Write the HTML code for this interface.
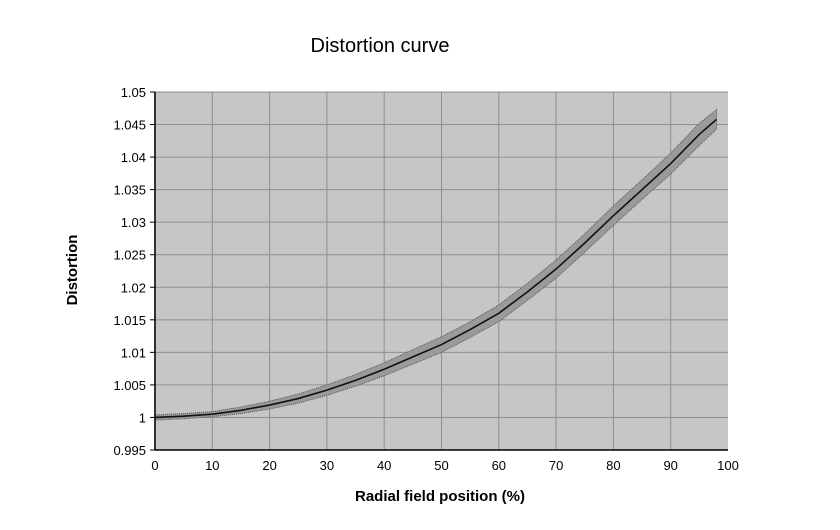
<!DOCTYPE html>
<html><head><meta charset="utf-8"><style>
html,body{margin:0;padding:0;background:#fff;}
svg{display:block;font-family:"Liberation Sans",Arial,sans-serif;}
</style></head><body>
<svg id="chart" width="840" height="530" viewBox="0 0 840 530">
<text x="380" y="52" text-anchor="middle" font-size="20" fill="#000">Distortion curve</text>
<rect x="154" y="92" width="574" height="358" fill="#c6c6c6"/>
<g id="grid"></g>
<g id="band"></g>
<g id="axes"></g>
<text transform="translate(77,270) rotate(-90)" text-anchor="middle" font-size="15" font-weight="bold">Distortion</text>
<text x="440" y="501" text-anchor="middle" font-size="15" font-weight="bold">Radial field position (%)</text>
</svg>
<script>
const xs=[0,5,10,15,20,25,30,35,40,45,50,55,60,65,70,75,80,85,90,95,98];
const center=[1.0,1.0002,1.0005,1.0011,1.0019,1.0029,1.0042,1.0057,1.0074,1.0093,1.0112,1.0135,1.016,1.0193,1.0228,1.0268,1.031,1.035,1.039,1.0435,1.0458];
const halfWidth=[0.0004,0.0004,0.0004,0.0005,0.0006,0.0007,0.0008,0.0009,0.001,0.0011,0.0012,0.0012,0.0013,0.0013,0.0014,0.0014,0.0015,0.0015,0.0016,0.0017,0.0015];
const xTicks=[0,10,20,30,40,50,60,70,80,90,100];
const yTicks=[0.995,1,1.005,1.01,1.015,1.02,1.025,1.03,1.035,1.04,1.045,1.05];
const yLabels=["0.995","1","1.005","1.01","1.015","1.02","1.025","1.03","1.035","1.04","1.045","1.05"];
const X0=155,X1=728,Y0=450,Y1=92;
const sx=v=>X0+(v-0)/(100-0)*(X1-X0);
const sy=v=>Y0-(v-0.995)/(1.05-0.995)*(Y0-Y1);
const NS="http://www.w3.org/2000/svg";
function mk(t,a,p){const e=document.createElementNS(NS,t);for(const k in a)e.setAttribute(k,a[k]);p.appendChild(e);return e;}
const grid=document.getElementById('grid'),axes=document.getElementById('axes'),band=document.getElementById('band');
xTicks.forEach((t,i)=>{
 if(t>0&&t<100){const l=mk('line',{x1:sx(t),x2:sx(t),y1:Y1,y2:Y0,stroke:'#8f8f8f','stroke-width':1},grid);
 
 }
 const tx=mk('text',{x:sx(t),y:Y0+20,'text-anchor':'middle','font-size':13},axes);tx.textContent=t;
 
 
});
yTicks.forEach((t,i)=>{
 if(i>0){const l=mk('line',{x1:X0,x2:X1,y1:sy(t),y2:sy(t),stroke:'#8f8f8f','stroke-width':1},grid);
 
 }
 mk('line',{x1:X0-5,x2:X0,y1:sy(t),y2:sy(t),stroke:'#000'},axes);
 const tx=mk('text',{x:X0-9,y:sy(t)+5,'text-anchor':'end','font-size':13},axes);tx.textContent=yLabels[i];
 
 
});
mk('line',{x1:X0,x2:X0,y1:Y1,y2:Y0,stroke:'#000','stroke-width':1.5},axes);
mk('line',{x1:X0,x2:X1,y1:Y0,y2:Y0,stroke:'#000','stroke-width':1.5},axes);
let up=xs.map((x,i)=>sx(x)+','+sy(center[i]+halfWidth[i]));
let lo=xs.map((x,i)=>sx(x)+','+sy(center[i]-halfWidth[i])).reverse();
const poly=mk('polygon',{points:up.concat(lo).join(' '),fill:'#9a9a9a',stroke:'#555','stroke-width':1,'stroke-dasharray':'1,1'},band);


const line=mk('polyline',{points:xs.map((x,i)=>sx(x)+','+sy(center[i])).join(' '),fill:'none',stroke:'#111','stroke-width':1.6},band);


</script>
</body></html>
